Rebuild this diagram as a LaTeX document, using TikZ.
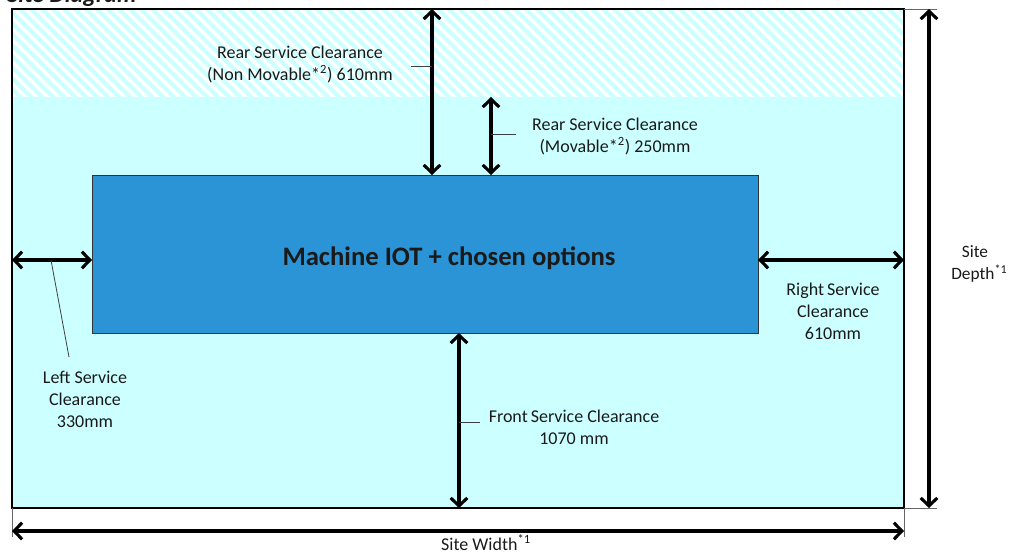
\documentclass[tikz,border=0pt]{standalone}
\usepackage{fontspec}
\setmainfont{Carlito}
\usetikzlibrary{arrows.meta}
\definecolor{siteCyan}{HTML}{CCFFFF}
\definecolor{machBlue}{HTML}{2A94D6}
\definecolor{txt}{HTML}{1A1A1A}
\begin{document}
\begin{tikzpicture}[x=0.75pt,y=-0.75pt,
  dim/.style={line width=2.3pt, {Straight Barb[length=6pt,width=12.5pt]}-{Straight Barb[length=6pt,width=12.5pt]}},
  lead/.style={line width=0.6pt, draw=black!75},
  ext/.style={line width=0.6pt, draw=black!60},
  lbl/.style={font=\fontsize{13.5}{16.5}\selectfont, text=txt, align=center},
  machine/.style={fill=machBlue, draw=black!80, line width=0.6pt, outer sep=0pt, inner sep=0pt}]
\useasboundingbox (0,0) rectangle (1011,554);
% title (cut off at the top)
\node[anchor=base west, font=\fontsize{18}{20}\selectfont\bfseries\itshape, text=txt, inner sep=0pt] (title) at (7,2) {Site Diagram};
% site area
\fill[siteCyan] (12,9) rectangle (904,508);
\begin{scope}
  \clip (12,9) rectangle (904,97);
  \fill[white] (12,9) rectangle (904,97);
  \foreach \i in {-12,...,84}
    \draw[siteCyan, line width=3pt] (\i*11,0) -- ++(110,110);
\end{scope}
\draw[line width=1.5pt] (12,9) rectangle (904,508);
% named points
\coordinate (sTL) at (12,9);
\coordinate (sTR) at (904,9);
\coordinate (sBL) at (12,508);
\coordinate (sBR) at (904,508);
% machine
\node[machine, minimum width=499.5pt, minimum height=118.5pt] (mach) at (425,254) {};
\node[font=\fontsize{20}{24}\selectfont\bfseries, text=txt] (machtxt) at (449,258) {Machine IOT + chosen options};
% rear non movable
\coordinate (rnT) at (432,9);
\coordinate (rnB) at (432,175);
\draw[dim] (rnT) -- (rnB);
\coordinate (rnL) at (411,66);
\draw[lead] (rnL) -- (rnL -| rnT);
\node[lbl] (rnlbl) at (300,64) {Rear Service Clearance\\(Non Movable*\textsuperscript{2}) 610mm};
% rear movable
\coordinate (rmT) at (491,97);
\coordinate (rmB) at (491,175);
\draw[dim] (rmT) -- (rmB);
\coordinate (rmL) at (516,134);
\draw[lead] (rmL -| rmT) -- (rmL);
\node[lbl] (rmlbl) at (615,136) {Rear Service Clearance\\(Movable*\textsuperscript{2}) 250mm};
% left
\coordinate (lfL) at (12,260);
\coordinate (lfR) at (92,260);
\draw[dim] (lfL) -- (lfR);
\coordinate (lfA) at (51,260);
\coordinate (lfB) at (69,357);
\draw[lead] (lfA) -- (lfB);
\node[lbl] (lflbl) at (85,399) {Left Service\\Clearance\\330mm};
% right
\coordinate (rtL) at (758,260);
\coordinate (rtR) at (904,260);
\draw[dim] (rtL) -- (rtR);
\node[lbl] (rtlbl) at (833,311) {Right\,Service\\Clearance\\610mm};
% front
\coordinate (frT) at (459,333);
\coordinate (frB) at (459,508);
\draw[dim] (frT) -- (frB);
\coordinate (frL) at (480,422);
\draw[lead] (frL -| frT) -- (frL);
\node[lbl] (frlbl) at (574,427) {Front\,Service Clearance\\1070 mm};
% site depth
\draw[ext] (sTR) -- (937,9);
\draw[ext] (sBR) -- (937,508);
\coordinate (sdT) at (929,9);
\coordinate (sdB) at (929,508);
\draw[dim] (sdT) -- (sdB);
\node[lbl, font=\fontsize{13}{16.5}\selectfont] (sdlbl) at (975,264) {Site\\\hspace*{0.5em}Depth\textsuperscript{*1}};
% site width
\draw[ext] (sBL) -- (12,537);
\draw[ext] (sBR) -- (904,537);
\coordinate (swL) at (12,531);
\coordinate (swR) at (904,531);
\draw[dim] (swL) -- (swR);
\node[lbl] (swlbl) at (486,543) {Site Width\textsuperscript{*1}};
\end{tikzpicture}
\end{document}
